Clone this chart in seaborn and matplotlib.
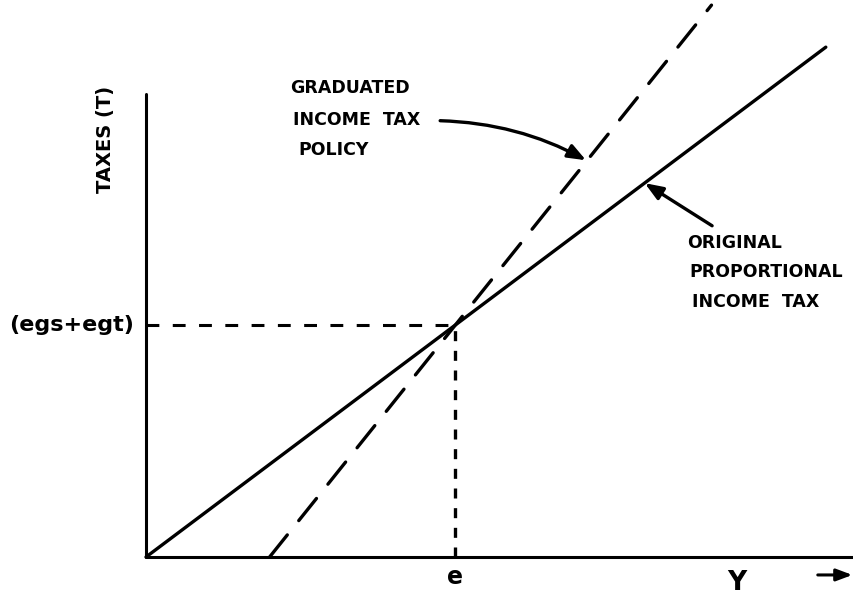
import matplotlib
matplotlib.use("Agg")
import matplotlib.pyplot as plt
import seaborn as sns
import pandas as pd

# Income (Y) and taxes (T) at the ends of each tax schedule
prop_income = [0.0, 11.0]
prop_taxes = [0.0, 8.25]
grad_income = [2.0, 9.15]
grad_taxes = [0.0, 8.93]

# Equilibrium income e and tax take (egs+egt)
eq_income = 5.0
eq_taxes = 3.75

# Axis extents
y_axis_top = 7.5
x_axis_right = 11.46

sns.set_theme(style="white")
plt.rcParams["font.family"] = ["DejaVu Sans"]

fig = plt.figure(figsize=(8.54, 6.04), dpi=100)
ax = fig.add_axes([0, 0, 1, 1])
ax.set_xlim(-2.362, 11.456)
ax.set_ylim(-0.76, 9.013)
ax.axis("off")

ink = "black"
lw = 2.4

df_prop = pd.DataFrame({"Y": prop_income, "T": prop_taxes})
df_grad = pd.DataFrame({"Y": grad_income, "T": grad_taxes})

sns.lineplot(data=df_prop, x="Y", y="T", ax=ax, color=ink, linewidth=lw,
             solid_capstyle="round")
sns.lineplot(data=df_grad, x="Y", y="T", ax=ax, color=ink, linewidth=lw,
             linestyle=(0, (8.5, 5.5)), dash_capstyle="round")

# Axes drawn as plain lines
ax.plot([0, 0], [0, y_axis_top], color=ink, linewidth=2.2)
ax.plot([0, x_axis_right], [0, 0], color=ink, linewidth=2.2)

# Guides to the equilibrium point
ax.plot([0, eq_income], [eq_taxes, eq_taxes], color=ink, linewidth=2.2,
        linestyle=(0, (4.2, 4.4)))
ax.plot([eq_income, eq_income], [0, eq_taxes], color=ink, linewidth=2.4,
        linestyle=(0, (3.0, 2.9)))

text_kw = dict(color=ink, fontweight="bold")

ax.text(-0.2, eq_taxes, "(egs+egt)", ha="right", va="center", fontsize=16, **text_kw)
ax.text(-0.66, 6.75, "TAXES (T)", ha="center", va="center", rotation=90,
        fontsize=14, **text_kw)
ax.text(eq_income, -0.32, "e", ha="center", va="center", fontsize=17, **text_kw)
ax.text(9.56, -0.42, "Y", ha="center", va="center", fontsize=19, **text_kw)

cap_kw = dict(ha="left", va="center", fontsize=12.5, **text_kw)
ax.text(2.33, 7.59, "GRADUATED", **cap_kw)
ax.text(2.38, 7.07, "INCOME  TAX", **cap_kw)
ax.text(2.46, 6.59, "POLICY", **cap_kw)

ax.text(8.75, 5.08, "ORIGINAL", **cap_kw)
ax.text(8.80, 4.61, "PROPORTIONAL", **cap_kw)
ax.text(8.83, 4.13, "INCOME  TAX", **cap_kw)

arrow_kw = dict(arrowstyle="-|>,head_length=0.9,head_width=0.35", color=ink,
                lw=2.4, shrinkA=0, shrinkB=0)
ax.annotate("", xy=(7.12, 6.42), xytext=(4.76, 7.06),
            arrowprops=dict(connectionstyle="arc3,rad=-0.12", **arrow_kw))
ax.annotate("", xy=(8.07, 6.05), xytext=(9.16, 5.36),
            arrowprops=dict(**arrow_kw))
ax.annotate("", xy=(11.43, -0.29), xytext=(10.87, -0.29),
            arrowprops=dict(arrowstyle="-|>,head_length=0.8,head_width=0.3",
                            color=ink, lw=2.2, shrinkA=0, shrinkB=0))

fig.savefig("out.png", dpi=100, facecolor="white")
